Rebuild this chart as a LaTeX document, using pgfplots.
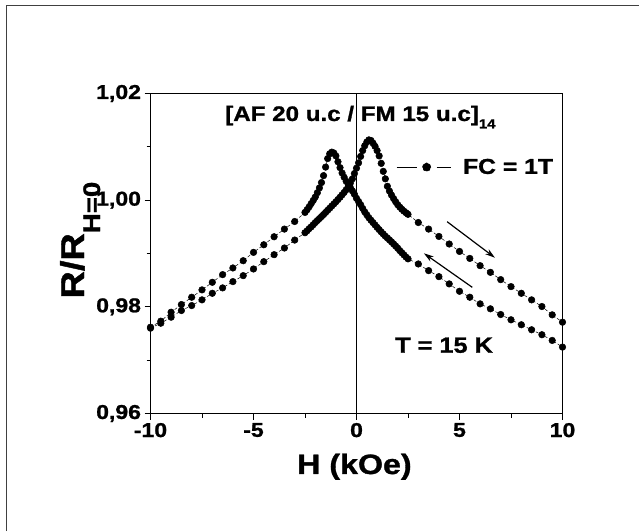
\documentclass[border=0pt]{standalone}
\usepackage{fontspec}
\setmainfont{Liberation Sans}[FakeStretch=1.15, BoldFeatures={FakeBold=1.2}]
\usepackage{pgfplots}
\pgfplotsset{compat=1.18}
\usetikzlibrary{arrows.meta}
\begin{document}
\begin{tikzpicture}[x=1pt,y=1pt]
\path[use as bounding box] (0,0) rectangle (639,531);
\draw[line width=1.4pt, black!75] (6.5,0) -- (6.5,525.5) -- (639,525.5);
\begin{axis}[
  at={(150.5pt,117.5pt)}, anchor=south west,
  scale only axis, width=412pt, height=320pt,
  xmin=-10, xmax=10, ymin=0.96, ymax=1.02,
  xtick={-10,-5,0,5,10}, ytick={0.96,0.98,1.00,1.02},
  minor x tick num=1, minor y tick num=1,
  tick pos=left, tick align=outside,
  major tick length=6pt, minor tick length=4pt,
  every tick/.style={black, line width=0.9pt},
  axis line style={line width=0.9pt},
  /pgf/number format/assume math mode=true,
  ticklabel style={font=\fontsize{20}{22}\selectfont\bfseries},
  yticklabel style={/pgf/number format/.cd, fixed, fixed zerofill, precision=2, use comma},
  xlabel={H (kOe)},
  xlabel style={font=\fontsize{28}{32}\selectfont\bfseries, at={(axis description cs:0.495,-0.189)}, anchor=base},
  ylabel={R/R\raisebox{-16pt}{\fontsize{24}{26}\selectfont H=0}},
  ylabel style={font=\fontsize{33}{36}\selectfont\bfseries, at={(axis description cs:-0.1614,0.3484)}, anchor=base west},
  legend style={draw=none, fill=none, at={(axis cs:1.92,1.0062)}, anchor=west, inner sep=0pt,
    font=\fontsize{21.5}{24}\selectfont\bfseries, nodes={inner sep=0pt}},
  legend image code/.code={
    \draw[solid, line width=0.8pt] (0pt,0pt) -- (20pt,0pt);
    \fill (30pt,0pt) circle (4.2pt);
    \draw[solid, line width=0.8pt] (40pt,0pt) -- (54pt,0pt);},
  /tikz/every odd column/.append style={column sep=12pt},
]
% decreasing-field branch
\addplot[black, line width=0.5pt, densely dashed, mark=*, mark size=3.3pt, mark options={solid}] table {
-10.0 0.97619
-9.5 0.97731
-9.0 0.97899
-8.5 0.98043
-8.0 0.98180
-7.5 0.98318
-7.0 0.98460
-6.5 0.98604
-6.0 0.98729
-5.5 0.98865
-5.0 0.99021
-4.5 0.99164
-4.0 0.99314
-3.5 0.99458
-3.0 0.99600
-2.5 0.99770
-2.4 0.99820
-2.3 0.99875
-2.2 0.99935
-2.1 0.99995
-2.0 1.00060
-1.9 1.00140
-1.8 1.00230
-1.7 1.00330
-1.6 1.00460
-1.5 1.00620
-1.4 1.00780
-1.3 1.00870
-1.2 1.00900
-1.1 1.00885
-1.0 1.00830
-0.9 1.00720
-0.8 1.00610
-0.7 1.00510
-0.6 1.00430
-0.5 1.00355
-0.4 1.00295
-0.3 1.00235
-0.2 1.00175
-0.1 1.00110
0.0 1.00035
0.1 0.99975
0.2 0.99915
0.3 0.99845
0.4 0.99780
0.5 0.99725
0.6 0.99670
0.7 0.99625
0.8 0.99580
0.9 0.99535
1.0 0.99490
1.1 0.99448
1.2 0.99405
1.3 0.99365
1.4 0.99325
1.5 0.99290
1.6 0.99255
1.7 0.99218
1.8 0.99180
1.9 0.99140
2.0 0.99100
2.1 0.99055
2.2 0.99015
2.3 0.98975
2.4 0.98935
2.5 0.98900
3.0 0.98804
3.5 0.98679
4.0 0.98566
4.5 0.98430
5.0 0.98292
5.5 0.98180
6.0 0.98056
6.5 0.97963
7.0 0.97856
7.5 0.97757
8.0 0.97664
8.5 0.97570
9.0 0.97477
9.5 0.97370
10.0 0.97245
};
\addlegendentry{FC = 1T}
% increasing-field branch
\addplot[black, line width=0.5pt, densely dashed, mark=*, mark size=3.3pt, mark options={solid}, forget plot] table {
-10.0 0.97600
-9.5 0.97693
-9.0 0.97806
-8.5 0.97931
-8.0 0.98024
-7.5 0.98131
-7.0 0.98254
-6.5 0.98355
-6.0 0.98473
-5.5 0.98585
-5.0 0.98710
-4.5 0.98847
-4.0 0.98978
-3.5 0.99103
-3.0 0.99252
-2.5 0.99390
-2.4 0.99425
-2.3 0.99465
-2.2 0.99500
-2.1 0.99540
-2.0 0.99580
-1.9 0.99618
-1.8 0.99655
-1.7 0.99692
-1.6 0.99730
-1.5 0.99770
-1.4 0.99810
-1.3 0.99850
-1.2 0.99890
-1.1 0.99930
-1.0 0.99970
-0.9 1.00012
-0.8 1.00055
-0.7 1.00100
-0.6 1.00145
-0.5 1.00195
-0.4 1.00250
-0.3 1.00320
-0.2 1.00400
-0.1 1.00500
0.0 1.00600
0.1 1.00700
0.2 1.00820
0.3 1.00930
0.4 1.01020
0.5 1.01090
0.6 1.01130
0.7 1.01120
0.8 1.01070
0.9 1.01010
1.0 1.00930
1.1 1.00830
1.2 1.00690
1.3 1.00540
1.4 1.00400
1.5 1.00260
1.6 1.00170
1.7 1.00095
1.8 1.00030
1.9 0.99970
2.0 0.99915
2.1 0.99870
2.2 0.99830
2.3 0.99795
2.4 0.99765
2.5 0.99735
3.0 0.99581
3.5 0.99458
4.0 0.99320
4.5 0.99178
5.0 0.99039
5.5 0.98908
6.0 0.98772
6.5 0.98647
7.0 0.98510
7.5 0.98379
8.0 0.98254
8.5 0.98131
9.0 0.98006
9.5 0.97850
10.0 0.97712
};
\addplot[black, line width=0.6pt, forget plot] coordinates {(0,0.96) (0,1.02)};
\node[anchor=base west, font=\fontsize{21}{24}\selectfont\bfseries, inner sep=0pt] at (axis cs:-6.38,1.01485) {[AF 20 u.c / FM 15 u.c]\raisebox{-0.35em}{\fontsize{13}{15}\selectfont 14}};
\node[anchor=center, font=\fontsize{22}{26}\selectfont\bfseries, inner sep=0pt] at (axis cs:4.25,0.9728) {T = 15 K};
\draw[line width=1.2pt, -{Stealth[length=10pt,width=6pt]}] (axis cs:4.40,0.99596) -- (axis cs:6.72,0.98921);
\draw[line width=1.2pt, -{Stealth[length=10pt,width=6pt]}] (axis cs:5.62,0.98366) -- (axis cs:3.27,0.99004);
\end{axis}
\end{tikzpicture}
\end{document}
